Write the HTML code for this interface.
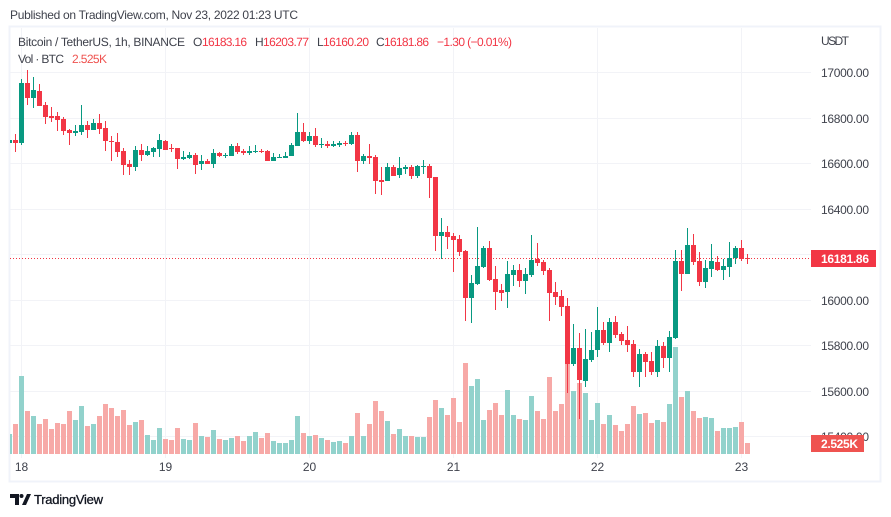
<!DOCTYPE html>
<html lang="en">
<head>
<meta charset="utf-8">
<title>BTC/USDT 1h chart</title>
<style>
html,body{margin:0;padding:0;background:#fff;width:891px;height:517px;overflow:hidden}
svg{display:block;font-family:"Liberation Sans",Arial,sans-serif}
text{white-space:pre}
</style>
</head>
<body>
<svg id="chart" xmlns="http://www.w3.org/2000/svg" width="891" height="517" viewBox="0 0 891 517" shape-rendering="crispEdges">
  <defs><clipPath id="plot-clip"><rect x="10" y="28" width="801" height="430"/></clipPath></defs>
  <text x="10" y="19" font-size="12" fill="#3f424c" textLength="288" lengthAdjust="spacing">Published on TradingView.com, Nov 23, 2022 01:23 UTC</text>
  <rect x="9.5" y="26.5" width="871" height="455" fill="none" stroke="#f0f3fa" stroke-width="2"/>
  <g id="grid"></g>
  <g id="volumes" clip-path="url(#plot-clip)"></g>
  <g id="candles" clip-path="url(#plot-clip)"></g>
  <g id="axis"></g>
  <g font-size="12" text-rendering="geometricPrecision">
    <text x="18" y="46" fill="#3f424c" textLength="167" lengthAdjust="spacing">Bitcoin / TetherUS, 1h, BINANCE</text>
    <text x="193" y="46" fill="#3f424c">O</text>
    <text x="202" y="46" fill="#f23645" textLength="45" lengthAdjust="spacing">16183.16</text>
    <text x="255" y="46" fill="#3f424c">H</text>
    <text x="263" y="46" fill="#f23645" textLength="46" lengthAdjust="spacing">16203.77</text>
    <text x="317" y="46" fill="#3f424c">L</text>
    <text x="323" y="46" fill="#f23645" textLength="46" lengthAdjust="spacing">16160.20</text>
    <text x="376" y="46" fill="#3f424c">C</text>
    <text x="384" y="46" fill="#f23645" textLength="45" lengthAdjust="spacing">16181.86</text>
    <text x="437" y="46" fill="#f23645" textLength="75" lengthAdjust="spacing">−1.30 (−0.01%)</text>
    <text x="18" y="63" fill="#3f424c" textLength="46" lengthAdjust="spacing">Vol · BTC</text>
    <text x="72" y="63" fill="#ef5350" textLength="35" lengthAdjust="spacing">2.525K</text>
  </g>
  <text x="821" y="45" font-size="12" fill="#3f424c" textLength="28" lengthAdjust="spacing">USDT</text>
  <g shape-rendering="geometricPrecision">
    <path d="M10 494h9v11h-4v-7h-5z M27 494h4l-5 11h-4z" fill="#131722"/>
    <circle cx="21.5" cy="496" r="2" fill="#131722"/>
    <text x="34" y="504" font-size="13" fill="#131722" stroke="#131722" stroke-width="0.3" textLength="69" lengthAdjust="spacing">TradingView</text>
  </g>
</svg>
<script>
const opens = [16692,16703,16690,16954,16889,16919,16857,16809,16809,16796,16747,16734,16739,16769,16747,16778,16756,16699,16695,16655,16598,16585,16659,16637,16651,16664,16699,16668,16668,16620,16624,16637,16598,16611,16598,16646,16633,16633,16677,16655,16646,16651,
16655,16655,16611,16624,16624,16633,16677,16738,16699,16721,16681,16686,16677,16681,16690,16686,16725,16611,16633,16628,16527,16523,16584,16549,16576,16584,16545,16584,
16589,16541,16281,16299,16281,16268,16215,16009,16070,16145,16229,16092,16044,16035,16110,16132,16084,16110,16180,
16167,16132,16035,16018,15974,15719,15789,15644,15736,15780,15868,15811,15903,15851,15824,15806,15683,15763,15732,15683,15798,15745,15833,16171,16114,16242,16171,16079,16136,16167,16132,16145,16185,16229,16183.16];
const highs = [16703,16730,16971,17011,16980,16949,16870,16848,16826,16804,16752,16769,16857,16787,16796,16818,16787,16721,16734,16668,16615,16677,16686,16677,16673,16730,16703,16686,16668,16655,16651,16646,16637,16620,16664,16651,16646,16686,16690,16664,16677,16681,
16664,16659,16646,16642,16650,16690,16822,16778,16738,16756,16712,16699,16699,16699,16699,16738,16738,16642,16686,16637,16584,16602,16593,16628,16593,16593,16593,16615,
16598,16541,16361,16325,16295,16286,16220,16110,16321,16237,16259,16150,16070,16171,16154,16158,16141,16286,16251,
16176,16141,16079,16044,16009,15894,15855,15872,15859,15969,15903,15921,15930,15859,15886,15824,15785,15771,15771,15824,15815,15864,16220,16220,16316,16290,16211,16176,16246,16193,16180,16255,16237,16264,16203.77];
const lows = [16692,16652,16683,16859,16845,16854,16775,16784,16743,16727,16683,16722,16725,16714,16747,16731,16656,16612,16630,16551,16551,16569,16612,16633,16630,16630,16659,16651,16576,16615,16620,16554,16571,16598,16580,16629,16626,16633,16642,16637,16637,16646,
16646,16611,16611,16624,16624,16633,16677,16694,16686,16672,16668,16668,16672,16672,16677,16681,16563,16598,16598,16466,16461,16523,16545,16536,16554,16532,16536,16554,
16448,16215,16180,16224,16123,16193,15908,15899,16066,16141,16084,15956,15996,15965,16062,16057,16026,16101,16150,
16110,15908,15978,15930,15591,15710,15477,15618,15727,15749,15802,15771,15833,15802,15771,15661,15618,15661,15670,15661,15701,15683,15828,16039,16114,16154,16061,16053,16101,16127,16088,16101,16158,16171,16160.20];
const closes = [16703,16692,16954,16889,16923,16854,16806,16800,16791,16743,16734,16743,16769,16747,16778,16752,16699,16696,16651,16593,16585,16659,16637,16655,16668,16703,16659,16664,16620,16629,16637,16593,16611,16598,16646,16633,16637,16677,16651,16646,16655,16655,
16652,16611,16628,16628,16633,16681,16738,16699,16721,16681,16686,16677,16686,16690,16687,16725,16611,16633,16624,16523,16519,16584,16545,16580,16584,16545,16589,16589,
16536,16281,16299,16277,16264,16211,16009,16075,16150,16229,16088,16035,16031,16114,16132,16084,16114,16176,16163,
16127,16031,16013,15969,15719,15789,15648,15741,15780,15868,15811,15903,15846,15820,15802,15683,15763,15727,15683,15798,15745,15837,16171,16114,16242,16167,16079,16141,16171,16132,16149,16185,16229,16180,16181.86];
const volumes = [4.59,6.89,17.9,9.87,8.72,6.89,8.03,5.74,7.12,6.89,9.87,7.8,11.02,6.43,6.89,8.72,11.48,10.56,8.72,10.1,6.66,7.35,7.8,4.36,3.21,5.97,3.44,3.21,5.97,3.44,3.21,7.12,4.13,3.9,5.51,3.44,3.21,3.67,4.13,2.98,4.13,5.05,
3.67,4.82,2.98,2.52,2.52,3.21,8.72,4.82,4.13,4.36,3.67,3.21,2.75,2.98,2.52,4.13,9.41,4.13,6.89,12.17,9.87,7.57,4.59,5.74,4.13,4.13,3.9,3.9,
8.49,12.39,10.56,8.95,12.85,7.35,20.89,15.61,17.21,7.8,10.1,11.71,8.95,14.69,8.95,8.03,7.8,13.31,9.87,
8.03,17.67,9.87,11.48,20.66,14.46,16.3,14,7.8,11.71,6.89,8.95,6.66,5.28,6.89,11.02,9.18,9.41,7.12,7.8,7.35,11.48,24.56,13.08,14.46,9.87,8.26,8.49,8.26,5.28,5.97,5.97,6.2,7.35,2.525];
const priceTicks = [17000,16800,16600,16400,16200,16000,15800,15600,15400];
const dayLabels = ["18","19","20","21","22","23"];
const dayCandleIndex = [2,26,50,74,98,122];
const lastPrice = 16181.86;
const lastVolumeLabel = "2.525K";

const NS = "http://www.w3.org/2000/svg";
const UP = "#089981", DOWN = "#f23645", UP_VOL = "#92d2cc", DOWN_VOL = "#f7a9a7";
function xScale(i){ return 9 + 6 * i; }              // left pixel of the 5px-wide bar column minus 2
function yPrice(p){ return 72.5 + (17000 - p) * 0.2275; }
function yVolume(v){ return 454 - v * 4.356; }
function mk(tag, attrs, parent){
  const el = document.createElementNS(NS, tag);
  for (const k in attrs) el.setAttribute(k, attrs[k]);
  parent.appendChild(el);
  return el;
}
const gridG = document.getElementById("grid");
const volG = document.getElementById("volumes");
const candleG = document.getElementById("candles");
const axisG = document.getElementById("axis");

// grid
priceTicks.forEach(function(p){
  const el = mk("rect", {x:10, y:Math.floor(yPrice(p)), width:801, height:1, fill:"#f2f3f7"}, gridG);
  
  
});
dayCandleIndex.forEach(function(i){
  const el = mk("rect", {x:xScale(i), y:28, width:1, height:430, fill:"#f2f3f7"}, gridG);
  
  
});

// volume bars
volumes.forEach(function(v, i){
  const up = closes[i] >= opens[i];
  const top = Math.round(yVolume(v));
  const el = mk("rect", {x:xScale(i)-2, y:top, width:5, height:454-top, fill: up ? UP_VOL : DOWN_VOL}, volG);
  
  
});

// last price line
const lineY = Math.floor(yPrice(lastPrice)) + 0.5;
const priceLine = mk("line", {x1:10, x2:811, y1:lineY, y2:lineY, stroke:DOWN, "stroke-width":1, "stroke-dasharray":"1 2"}, candleG);



// candles
opens.forEach(function(o, i){
  const c = closes[i];
  const up = c >= o;
  const col = up ? UP : DOWN;
  const yh = Math.round(yPrice(highs[i]));
  const yl = Math.round(yPrice(lows[i]));
  const t = Math.round(yPrice(Math.max(o, c)));
  const b = Math.round(yPrice(Math.min(o, c)));
  const wick = mk("rect", {x:xScale(i), y:yh, width:1, height:Math.max(1, yl-yh), fill:col}, candleG);
  
  
  const body = mk("rect", {x:xScale(i)-2, y:t, width:5, height:Math.max(1, b-t), fill:col}, candleG);
  
  
});

// price axis labels
priceTicks.forEach(function(p){
  if (p === 16200) return;
  const el = mk("text", {x:821, y:Math.floor(yPrice(p))+5, "font-size":12, fill:"#3f424c", textLength:48, lengthAdjust:"spacing"}, axisG);
  el.textContent = p.toFixed(2);
  
  
});

// day axis labels
dayLabels.forEach(function(d, k){
  const el = mk("text", {x:xScale(dayCandleIndex[k])+0.5, y:471, "font-size":12, fill:"#3f424c", "text-anchor":"middle"}, axisG);
  el.textContent = d;
  
  
});

// last price badge
const priceBadgeY = Math.round(yPrice(lastPrice));
const priceBadge = mk("rect", {x:811, y:priceBadgeY-9, width:65, height:17, fill:DOWN}, axisG);


const priceBadgeText = mk("text", {x:821, y:priceBadgeY+4, "font-size":12, "font-weight":"bold", fill:"#fff", textLength:48, lengthAdjust:"spacing"}, axisG);
priceBadgeText.textContent = lastPrice.toFixed(2);



// volume badge
const volBadge = mk("rect", {x:811, y:435, width:53, height:17, fill:"#ef5350"}, axisG);


const volBadgeText = mk("text", {x:821, y:448, "font-size":12, "font-weight":"bold", fill:"#fff", textLength:37, lengthAdjust:"spacing"}, axisG);
volBadgeText.textContent = lastVolumeLabel;


</script>
</body>
</html>
